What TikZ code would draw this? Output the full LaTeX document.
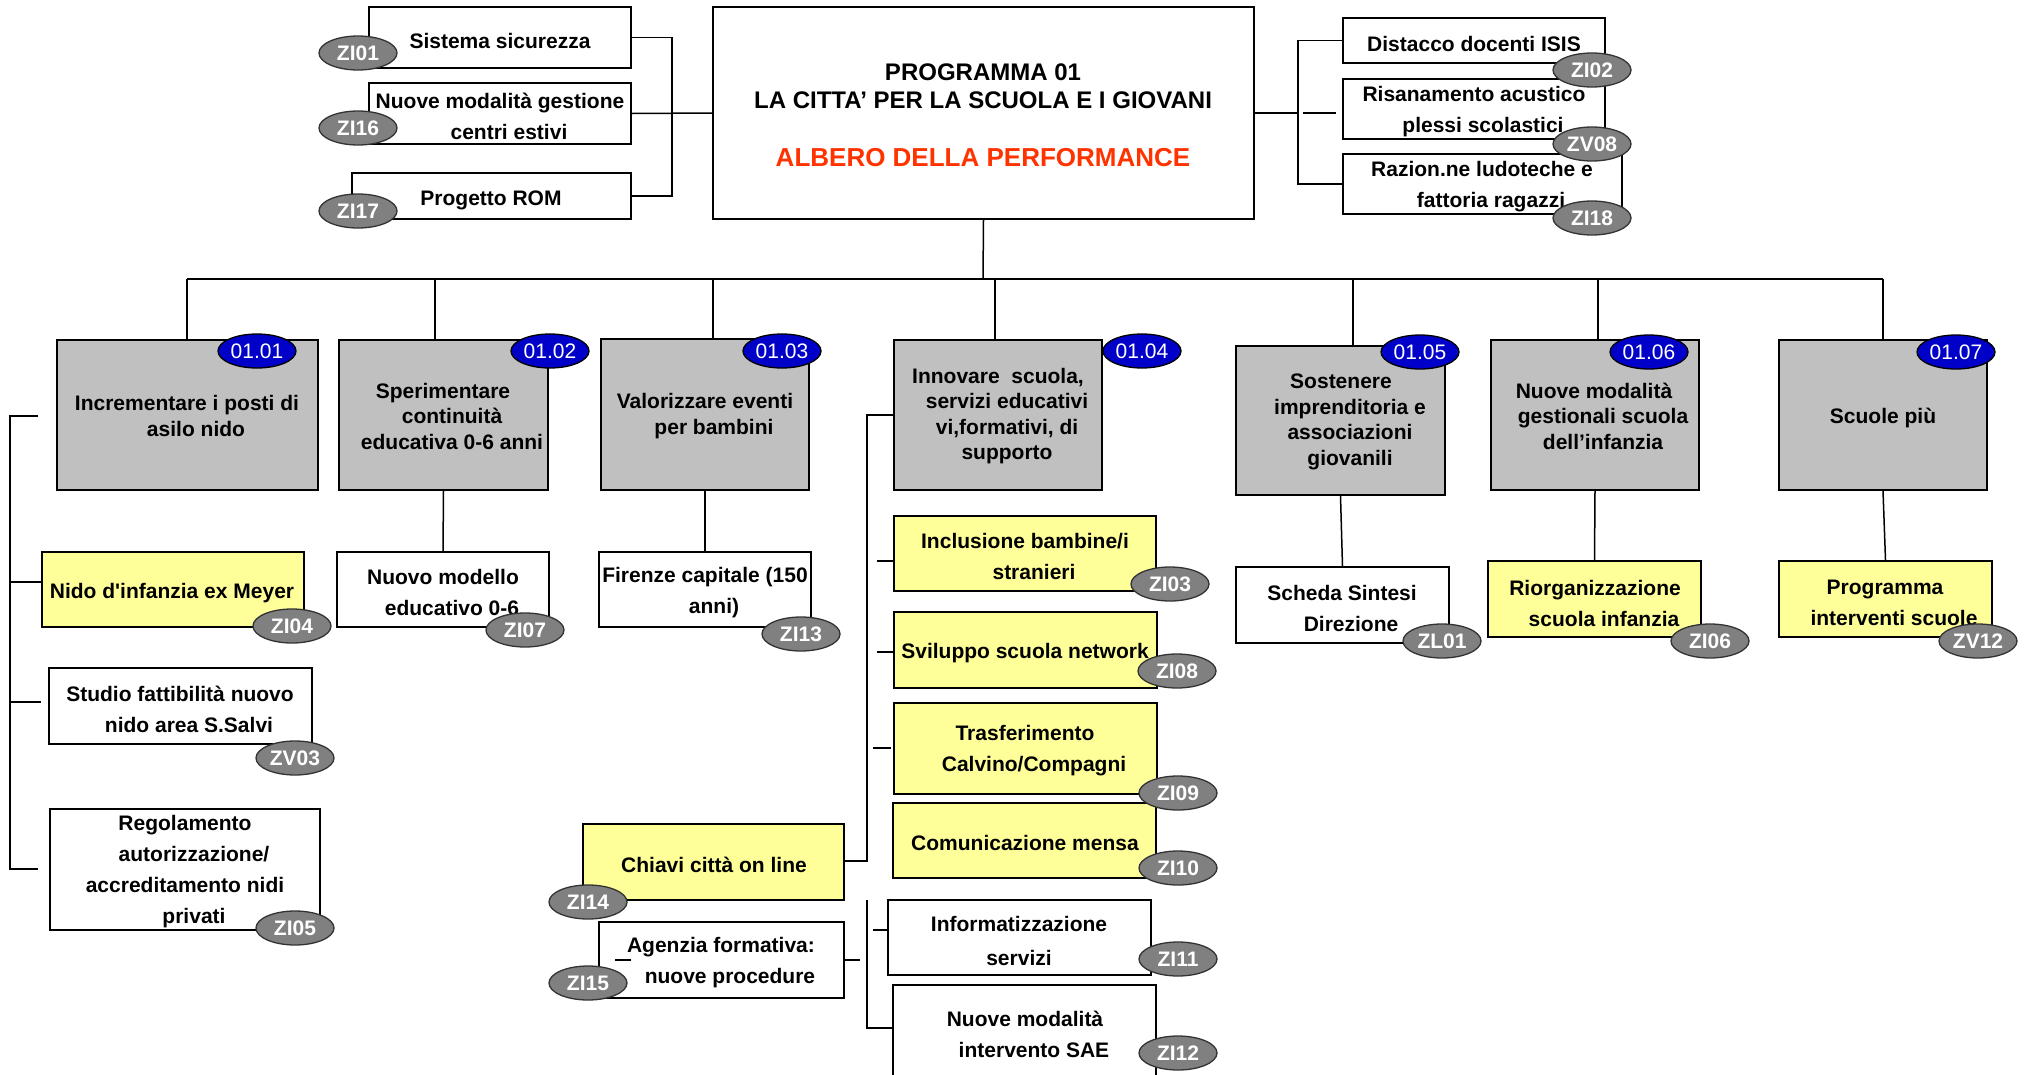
\documentclass[tikz,border=0pt]{standalone}
\usepackage{fontspec}
\setmainfont{Liberation Sans}
\usetikzlibrary{shapes.geometric}
\definecolor{boxgray}{RGB}{192,192,192}
\definecolor{boxyellow}{RGB}{255,255,153}
\definecolor{zgray}{RGB}{128,128,128}
\definecolor{oblue}{RGB}{0,0,200}
\definecolor{titlered}{RGB}{255,51,0}
\newcommand\txtfont{\bfseries\fontsize{21}{31}\selectfont}
\newcommand\gtxtfont{\bfseries\fontsize{21}{25.5}\selectfont}
\newcommand\ind{\hspace*{18pt}}
\newcommand\mkbox[6]{\node[#2, minimum width={(#5-#3)*1pt}, minimum height={(#6-#4)*1pt}] (#1) at ({(#3+#5)/2},{(#4+#6)/2}) {};}
\tikzset{
  bx/.style={draw=black, line width=1.6pt, inner sep=0pt, rectangle},
  gbox/.style={bx, fill=boxgray},
  ybox/.style={bx, fill=boxyellow},
  wbox/.style={bx, fill=white},
  txt/.style={font=\txtfont, align=center, inner sep=0pt},
  gtxt/.style={font=\gtxtfont, align=center, inner sep=0pt},
  zb/.style={ellipse, draw=black!80, line width=1.3pt, fill=zgray, text=white, font=\bfseries\fontsize{21}{25}\selectfont, minimum width=78pt, minimum height=34pt, inner sep=0pt},
  ob/.style={ellipse, draw=black, line width=1.3pt, fill=oblue, text=white, font=\fontsize{21}{25}\selectfont, minimum width=78pt, minimum height=34pt, inner sep=0pt},
  conn/.style={line width=1.5pt},
}
\begin{document}
\begin{tikzpicture}[x=1pt,y=-1pt]
\clip (0,0) rectangle (2027,1074);
\fill[white] (0,0) rectangle (2027,1074);

% ---------- boxes ----------
\mkbox{sis}{wbox}{369}{7}{631}{68}
\mkbox{nmg}{wbox}{369}{83}{631}{144}
\mkbox{rom}{wbox}{352}{173}{631}{219}
\mkbox{main}{wbox}{713}{7}{1254}{219}
\mkbox{dist}{wbox}{1343}{18}{1605}{63}
\mkbox{ris}{wbox}{1343}{79}{1605}{139}
\mkbox{raz}{wbox}{1343}{154}{1622}{214}
\mkbox{o1}{gbox}{57}{340}{318}{490}
\mkbox{o2}{gbox}{339}{340}{548}{490}
\mkbox{o3}{gbox}{601}{339}{809}{490}
\mkbox{o4}{gbox}{894}{340}{1102}{490}
\mkbox{o5}{gbox}{1236}{346}{1445}{495}
\mkbox{o6}{gbox}{1491}{340}{1699}{490}
\mkbox{o7}{gbox}{1779}{340}{1987}{490}
\mkbox{nido}{ybox}{42}{552}{304}{627}
\mkbox{nm}{wbox}{337}{552}{549}{627}
\mkbox{fir}{wbox}{599}{552}{811}{627}
\mkbox{stu}{wbox}{49}{668}{312}{744}
\mkbox{reg}{wbox}{50}{809}{320}{930}
\mkbox{inc}{ybox}{894}{516}{1156}{591}
\mkbox{svi}{ybox}{894}{612}{1157}{688}
\mkbox{tra}{ybox}{894}{703}{1157}{794}
\mkbox{com}{ybox}{893}{803}{1156}{878}
\mkbox{inf}{wbox}{888}{900}{1151}{975}
\mkbox{sae}{wbox}{893}{985}{1156}{1095}
\mkbox{chi}{ybox}{583}{824}{844}{900}
\mkbox{age}{wbox}{599}{922}{844}{998}
\mkbox{sch}{wbox}{1236}{567}{1449}{643}
\mkbox{rio}{ybox}{1488}{561}{1701}{637}
\mkbox{pro}{ybox}{1779}{561}{1992}{637}

% ---------- connectors ----------
\coordinate (jL) at (672,113);
\draw[conn] (sis.east) -| (jL);
\draw[conn] (rom.east) -| (jL);
\draw[conn] (nmg.east) -- (main.west);

\coordinate (jR) at (1298,113);
\draw[conn] (main.east) -- (jR);
\draw[conn] (dist.west) -| (jR);
\draw[conn] (raz.west) -| (jR);
\coordinate (sR1) at (1303,113);
\coordinate (sR2) at (1336,113);
\draw[conn] (sR1) -- (sR2);

\coordinate (bus) at (983,279);
\coordinate (busL) at (187,279);
\coordinate (busR) at (1883,279);
\draw[conn] (main.south) -- (bus);
\draw[conn] (busL) -- (busR);
\coordinate (d1) at (187,279);
\coordinate (d2) at (435,279);
\coordinate (d3) at (713,279);
\coordinate (d4) at (995,279);
\coordinate (d5) at (1353,279);
\coordinate (d6) at (1598,279);
\coordinate (d7) at (1883,279);
\draw[conn] (d1) -- (d1 |- o1.north);
\draw[conn] (d2) -- (d2 |- o2.north);
\draw[conn] (d3) -- (d3 |- o3.north);
\draw[conn] (d4) -- (d4 |- o4.north);
\draw[conn] (d5) -- (d5 |- o5.north);
\draw[conn] (d6) -- (d6 |- o6.north);
\draw[conn] (d7) -- (d7 |- o7.north);

\draw[conn] (o2.south) -- (nm.north);
\draw[conn] (o3.south) -- (fir.north);
\draw[conn] (o5.south) -- (sch.north);
\draw[conn] (o6.south) -- (rio.north);
\draw[conn] (o7.south) -- (pro.north);

% left tree of 01.01
\coordinate (lt) at (38,416);
\coordinate (l0) at (10,416);
\coordinate (l4) at (10,869);
\coordinate (l5) at (38,869);
\draw[conn] (lt) -- (l0) -- (l4) -- (l5);
\coordinate (ln) at (10,582);
\draw[conn] (ln) -- (ln -| nido.west);
\coordinate (ls1) at (9,702);
\coordinate (ls2) at (41,702);
\draw[conn] (ls1) -- (ls2);

% tree of 01.04
\coordinate (v0) at (867,415);
\coordinate (v1) at (867,861);
\draw[conn] (o4.west |- v0) -- (v0) -- (v1) -- (v1 -| chi.east);
\coordinate (v2) at (867,900);
\coordinate (v3) at (867,1028);
\draw[conn] (v2) -- (v3) -- (v3 -| sae.west);
\coordinate (s1) at (877,561);
\draw[conn] (s1) -- (s1 -| inc.west);
\coordinate (s2) at (877,652);
\draw[conn] (s2) -- (s2 -| svi.west);
\coordinate (s3) at (873,748);
\draw[conn] (s3) -- (891,748);
\coordinate (s4) at (873,930);
\draw[conn] (s4) -- (s4 -| inf.west);
\coordinate (a1) at (843,960);
\coordinate (a2) at (860,960);
\draw[conn] (a1) -- (a2);
\coordinate (a3) at (615,960);
\coordinate (a4) at (631,960);
\draw[conn] (a3) -- (a4);

% ---------- texts ----------
\node[txt] (tsis) at (500,41) {Sistema sicurezza};
\node[txt] (tnmg) at (500,116) {Nuove modalità gestione\\\ind centri estivi};
\node[txt] (trom) at (491,200) {Progetto ROM};
\node[align=center, inner sep=0pt, font=\bfseries\fontsize{24}{28}\selectfont] (ttitle) at (983,86) {PROGRAMMA 01\\LA CITTA’ PER LA SCUOLA E I GIOVANI};
\node[inner sep=0pt, text=titlered, font=\bfseries\fontsize{26}{30}\selectfont] (tred) at (983,158) {ALBERO DELLA PERFORMANCE};
\node[txt] (tdist) at (1474,44) {Distacco docenti ISIS};
\node[txt] (tris) at (1474,112) {Risanamento acustico\\\ind plessi scolastici};
\node[txt] (traz) at (1482,187) {Razion.ne ludoteche e\\\ind fattoria ragazzi};

\node[gtxt] (to1) at (187,416) {Incrementare i posti di\\\ind asilo nido};
\node[gtxt] (to2) at (443,416) {Sperimentare\\\ind continuità\\\ind educativa 0-6 anni};
\node[gtxt] (to3) at (705,416) {Valorizzare eventi\\\ind per bambini};
\node[gtxt] (to4) at (998,416) {Innovare\ \ scuola,\\\ind servizi educativi\\\ind vi,formativi, di\\\ind supporto};
\node[gtxt] (to5) at (1341,422) {Sostenere\\\ind imprenditoria e\\\ind associazioni\\\ind giovanili};
\node[gtxt] (to6) at (1594,416) {Nuove modalità\\\ind gestionali scuola\\\ind dell’infanzia};
\node[gtxt] (to7) at (1883,418) {Scuole più};

\node[txt] (tnido) at (172,593) {Nido d\textquotesingle infanzia ex Meyer};
\node[txt] (tnm) at (443,592) {Nuovo modello\\\ind educativo 0-6};
\node[txt] (tfir) at (705,593) {Firenze capitale (150\\\ind anni)};
\node[txt] (tstu) at (180,709) {Studio fattibilità nuovo\\\ind nido area S.Salvi};
\node[txt] (treg) at (185,872) {Regolamento\\\ind autorizzazione/\\accreditamento nidi\\\ind privati};
\node[txt] (tinc) at (1025,556) {Inclusione bambine/i\\\ind stranieri};
\node[txt] (tsvi) at (1025,653) {Sviluppo scuola network};
\node[txt] (ttra) at (1025,751) {Trasferimento\\\ind Calvino/Compagni};
\node[txt] (tcom) at (1025,843) {Comunicazione mensa};
\node[align=center, inner sep=0pt, font=\bfseries\fontsize{21}{34}\selectfont] (tinf) at (1019,941) {Informatizzazione\\servizi};
\node[txt] (tsae) at (1025,1034) {Nuove modalità\\\ind intervento SAE};
\node[txt] (tchi) at (714,865) {Chiavi città on line};
\node[txt] (tage) at (721,963) {Agenzia formativa:\\\ind nuove procedure};
\node[txt] (tsch) at (1342,608) {Scheda Sintesi\\\ind Direzione};
\node[txt] (trio) at (1595,603) {Riorganizzazione\\\ind scuola infanzia};
\node[txt] (tpro) at (1885,603) {Programma\\\ind interventi scuole};

% ---------- badges ----------
\node[zb] (zi01) at (358,53) {ZI01};
\node[zb] (zi16) at (358,128) {ZI16};
\node[zb] (zi17) at (358,211) {ZI17};
\node[zb] (zi02) at (1592,70) {ZI02};
\node[zb] (zv08) at (1592,144) {ZV08};
\node[zb] (zi18) at (1592,218) {ZI18};
\node[ob] (b1) at (257,351) {01.01};
\node[ob] (b2) at (550,351) {01.02};
\node[ob] (b3) at (782,351) {01.03};
\node[ob] (b4) at (1142,351) {01.04};
\node[ob] (b5) at (1420,352) {01.05};
\node[ob] (b6) at (1649,352) {01.06};
\node[ob] (b7) at (1956,352) {01.07};
\node[zb] (zi04) at (292,626) {ZI04};
\node[zb] (zi07) at (525,630) {ZI07};
\node[zb] (zv03) at (295,758) {ZV03};
\node[zb] (zi05) at (295,928) {ZI05};
\node[zb] (zi13) at (801,634) {ZI13};
\node[zb] (zi03) at (1170,584) {ZI03};
\node[zb] (zi08) at (1177,671) {ZI08};
\node[zb] (zi09) at (1178,793) {ZI09};
\node[zb] (zi10) at (1178,868) {ZI10};
\node[zb] (zi11) at (1178,959) {ZI11};
\node[zb] (zi12) at (1178,1053) {ZI12};
\node[zb] (zi14) at (588,902) {ZI14};
\node[zb] (zi15) at (588,983) {ZI15};
\node[zb] (zl01) at (1442,641) {ZL01};
\node[zb] (zi06) at (1710,641) {ZI06};
\node[zb] (zv12) at (1978,641) {ZV12};
\end{tikzpicture}
\end{document}
